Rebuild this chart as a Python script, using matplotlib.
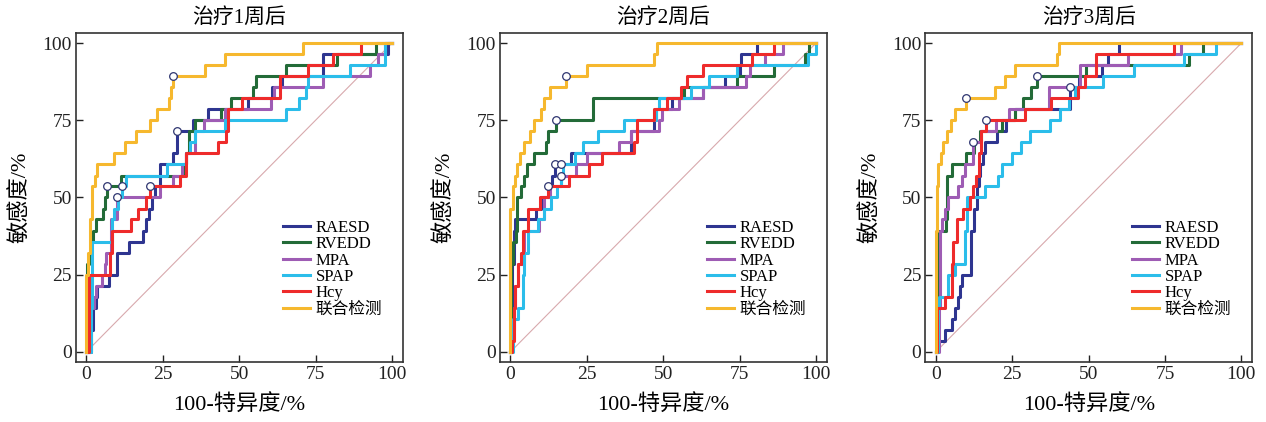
"""ROC curves after 1/2/3 weeks of treatment."""

import matplotlib
import matplotlib.pyplot as plt

matplotlib.use("Agg")

plt.rcParams["font.family"] = ["Liberation Serif", "Noto Sans CJK SC", "DejaVu Sans"]

TITLES = ["治疗1周后", "治疗2周后", "治疗3周后"]
LABELS = ["RAESD", "RVEDD", "MPA", "SPAP", "Hcy", "联合检测"]
COLORS = ["#2e3590", "#236b38", "#9e5cb4", "#2bbdea", "#ee2b2b", "#f6b82e"]
TICKS = [0, 25, 50, 75, 100]

# ---- week 1: (100-specificity, sensitivity) corner points ----
w1_raesd_x = [0, 1.5, 2.2, 3.0, 3.5, 7.5, 10.0, 14.0, 18.5, 19.6, 20.5, 21.5, 22.5, 24.2, 28.5, 29.8, 34.9, 39.8, 53.0, 60.6, 64.0, 77.5, 98.7, 100]
w1_raesd_y = [0, 7.1, 14.3, 17.9, 21.4, 25, 32.1, 35.7, 39.3, 42.9, 46.4, 50, 53.6, 60.7, 64.3, 71.4, 75, 78.6, 82.1, 85.7, 89.3, 96.4, 100, 100]
w1_rvedd_x = [0, 0.3, 1.0, 1.5, 2.3, 3.0, 5.5, 6.0, 6.7, 11.5, 31.5, 32.5, 33.5, 35.5, 44.0, 47.5, 54.5, 55.5, 65.5, 82.0, 94.9, 100]
w1_rvedd_y = [0, 28.6, 32.1, 35.7, 39.3, 42.9, 46.4, 50, 53.6, 57.1, 60.7, 64.3, 71.4, 75, 78.6, 82.1, 85.7, 89.3, 92.9, 96.4, 100, 100]
w1_mpa_x = [0, 1.0, 2.4, 3.0, 5.0, 6.0, 6.5, 8.0, 10.0, 24.2, 28.5, 31.3, 32.5, 35.5, 38.5, 45.5, 60.5, 61.5, 77.5, 92.7, 95.5, 97.6, 100]
w1_mpa_y = [0, 14.3, 17.9, 21.4, 25, 28.6, 32.1, 42.9, 50, 53.6, 57.1, 60.7, 64.3, 71.4, 75, 78.6, 82.1, 85.7, 89.3, 92.9, 96.4, 100, 100]
w1_spap_x = [0, 1.5, 1.8, 2.0, 8.4, 8.5, 9.0, 10.5, 11.6, 13.0, 26.3, 32.5, 34.0, 35.5, 45.5, 65.5, 69.5, 72.0, 72.5, 86.2, 97.6, 100]
w1_spap_y = [0, 14.3, 25, 35.7, 39.3, 42.9, 46.4, 50, 53.6, 57.1, 60.7, 64.3, 67.9, 71.4, 75, 78.6, 82.1, 85.7, 89.3, 92.9, 100, 100]
w1_hcy_x = [0, 0.8, 7.6, 8.4, 14.5, 17.0, 19.6, 20.9, 30.8, 32.5, 43.2, 45.8, 46.5, 50.8, 63.3, 72.6, 80.7, 90.0, 100]
w1_hcy_y = [0, 25, 32.1, 39.3, 42.9, 46.4, 50, 53.6, 57.1, 64.3, 67.9, 71.4, 78.6, 82.1, 89.3, 92.9, 96.4, 100, 100]
w1_comb_x = [0, 0, 0.6, 1.3, 2.0, 2.7, 3.6, 8.9, 12.7, 16.3, 20.9, 23.1, 26.9, 27.6, 28.3, 38.8, 45.4, 70.9, 100]
w1_comb_y = [0, 25, 32.1, 42.9, 53.6, 57.1, 60.7, 64.3, 67.9, 71.4, 75, 78.6, 82.1, 85.7, 89.3, 92.9, 96.4, 100, 100]

# ---- week 2 ----
w2_raesd_x = [0, 0.4, 1.0, 1.5, 8.5, 10.0, 12.6, 13.5, 14.7, 19.8, 39.6, 47.0, 47.5, 52.8, 63.0, 70.3, 75.0, 75.5, 80.7, 100]
w2_raesd_y = [0, 28.6, 39.3, 42.9, 46.4, 50, 53.6, 57.1, 60.7, 64.3, 71.4, 75, 78.6, 82.1, 85.7, 89.3, 92.9, 96.4, 100, 100]
w2_rvedd_x = [0, 0.3, 0.8, 1.8, 2.0, 2.2, 3.4, 4.5, 5.4, 7.8, 11.6, 12.2, 15.0, 27.0, 56.7, 74.1, 86.2, 96.4, 97.8, 100]
w2_rvedd_y = [0, 28.6, 35.7, 39.3, 46.4, 50, 53.6, 57.1, 60.7, 64.3, 67.9, 71.4, 75, 82.1, 85.7, 89.3, 92.9, 96.4, 100, 100]
w2_mpa_x = [0, 0.5, 1.0, 1.6, 2.4, 4.5, 9.5, 11.0, 13.0, 16.5, 21.4, 25.0, 35.5, 39.5, 48.5, 49.5, 55.0, 63.0, 77.0, 78.5, 83.3, 89.1, 100]
w2_mpa_y = [0, 7.1, 14.3, 21.4, 28.6, 39.3, 42.9, 50, 53.6, 57.1, 60.7, 64.3, 67.9, 71.4, 75, 78.6, 82.1, 85.7, 89.3, 92.9, 96.4, 100, 100]
w2_spap_x = [0, 0.8, 2.4, 4.2, 4.5, 5.7, 8.9, 11.1, 13.3, 15.2, 16.5, 17.2, 21.1, 23.6, 28.8, 37.2, 47.5, 48.5, 59.2, 64.9, 74.1, 97.5, 100]
w2_spap_y = [0, 10.7, 14.3, 25, 32.1, 39.3, 42.9, 46.4, 50, 53.6, 57.1, 60.7, 64.3, 67.9, 71.4, 75, 78.6, 82.1, 85.7, 89.3, 92.9, 96.4, 100]
w2_hcy_x = [0, 0.4, 1.1, 1.5, 2.4, 3.3, 4.0, 5.7, 9.8, 12.4, 19.2, 25.8, 30.1, 40.4, 41.5, 47.0, 51.3, 55.7, 57.8, 63.0, 79.0, 86.1, 100]
w2_hcy_y = [0, 3.6, 14.3, 21.4, 28.6, 32.1, 39.3, 46.4, 50, 53.6, 57.1, 60.7, 64.3, 67.9, 75, 78.6, 82.1, 85.7, 89.3, 92.9, 96.4, 100, 100]
w2_comb_x = [0, 0, 0.9, 1.6, 2.3, 3.0, 4.5, 6.5, 7.6, 10.0, 11.1, 13.0, 18.3, 25.2, 47.0, 47.8, 100]
w2_comb_y = [0, 46.4, 53.6, 57.1, 60.7, 64.3, 67.9, 71.4, 75, 78.6, 82.1, 85.7, 89.3, 92.9, 96.4, 100, 100]

# ---- week 3 ----
w3_raesd_x = [0, 0.6, 3.0, 5.2, 6.3, 7.2, 8.0, 8.5, 11.5, 11.5, 12.5, 13.4, 14.0, 14.6, 15.5, 16.1, 20.0, 23.0, 25.9, 43.8, 46.7, 54.5, 56.3, 59.8, 100]
w3_raesd_y = [0, 3.6, 7.1, 10.7, 14.3, 17.9, 21.4, 25, 32.1, 39.3, 46.4, 53.6, 57.1, 60.7, 64.3, 67.9, 71.4, 75, 78.6, 85.7, 89.3, 92.9, 96.4, 100, 100]
w3_rvedd_x = [0, 0.5, 0.9, 3.3, 3.5, 5.2, 10.0, 12.5, 14.5, 21.5, 25.9, 28.5, 31.0, 33.0, 49.3, 82.9, 87.6, 100]
w3_rvedd_y = [0, 21.4, 39.3, 42.9, 57.1, 60.7, 64.3, 67.9, 71.4, 75, 78.6, 82.1, 85.7, 89.3, 92.9, 96.4, 100, 100]
w3_mpa_x = [0, 0.9, 1.4, 2.0, 3.0, 4.1, 7.4, 8.5, 9.6, 12.3, 14.8, 19.6, 24.0, 37.2, 47.3, 62.8, 80.2, 100]
w3_mpa_y = [0, 14.3, 39.3, 42.9, 46.4, 50, 53.6, 57.1, 60.7, 67.9, 71.4, 75, 78.6, 85.7, 92.9, 96.4, 100, 100]
w3_spap_x = [0, 0.6, 1.0, 4.1, 6.3, 9.6, 10.1, 16.1, 20.4, 21.5, 24.8, 28.0, 30.8, 37.3, 40.5, 43.5, 45.5, 54.7, 65.0, 81.3, 91.6, 100]
w3_spap_y = [0, 14.3, 17.9, 25, 28.6, 39.3, 50, 53.6, 57.1, 60.7, 64.3, 67.9, 71.4, 75, 78.6, 82.1, 85.7, 89.3, 92.9, 96.4, 100, 100]
w3_hcy_x = [0, 0.4, 3.0, 5.4, 5.5, 6.8, 9.0, 11.2, 12.3, 13.2, 14.0, 14.8, 16.4, 29.1, 37.8, 46.5, 48.7, 52.5, 78.0, 100]
w3_hcy_y = [0, 14.3, 17.9, 28.6, 35.7, 42.9, 46.4, 50, 53.6, 57.1, 64.3, 71.4, 75, 78.6, 82.1, 85.7, 89.3, 96.4, 100, 100]
w3_comb_x = [0, 0, 0.4, 0.7, 1.6, 2.4, 3.8, 5.0, 6.3, 9.8, 19.3, 22.6, 25.9, 39.5, 40.2, 100]
w3_comb_y = [0, 39.3, 53.6, 60.7, 64.3, 67.9, 71.4, 75, 78.6, 82.1, 85.7, 89.3, 92.9, 96.4, 100, 100]

# optimal cut-off points (open circles)
w1_cut_x = [6.7, 10.0, 11.6, 20.9, 29.8, 28.3]
w1_cut_y = [53.6, 50, 53.6, 53.6, 71.4, 89.3]
w2_cut_x = [18.3, 15.0, 14.7, 16.5, 16.5, 12.4]
w2_cut_y = [89.3, 75, 60.7, 60.7, 57.1, 53.6]
w3_cut_x = [9.8, 33.0, 43.8, 16.4, 12.3]
w3_cut_y = [82.1, 89.3, 85.7, 75, 67.9]

PANELS = [
    ([(w1_raesd_x, w1_raesd_y), (w1_rvedd_x, w1_rvedd_y), (w1_mpa_x, w1_mpa_y),
      (w1_spap_x, w1_spap_y), (w1_hcy_x, w1_hcy_y), (w1_comb_x, w1_comb_y)],
     w1_cut_x, w1_cut_y),
    ([(w2_raesd_x, w2_raesd_y), (w2_rvedd_x, w2_rvedd_y), (w2_mpa_x, w2_mpa_y),
      (w2_spap_x, w2_spap_y), (w2_hcy_x, w2_hcy_y), (w2_comb_x, w2_comb_y)],
     w2_cut_x, w2_cut_y),
    ([(w3_raesd_x, w3_raesd_y), (w3_rvedd_x, w3_rvedd_y), (w3_mpa_x, w3_mpa_y),
      (w3_spap_x, w3_spap_y), (w3_hcy_x, w3_hcy_y), (w3_comb_x, w3_comb_y)],
     w3_cut_x, w3_cut_y),
]

fig = plt.figure(figsize=(12.66, 4.22), dpi=100)
lefts = [0.060, 0.395, 0.731]

for i, (curves, cx, cy) in enumerate(PANELS):
    ax = fig.add_axes([lefts[i], 0.142, 0.258, 0.780])
    ax.plot([0, 100], [0, 100], color="#d8a9ad", linewidth=0.8, zorder=1)
    for (xs, ys), label, color in zip(curves, LABELS, COLORS):
        ax.plot(xs, ys, drawstyle="steps-post", color=color, linewidth=2.2,
                label=label, zorder=2)
    ax.plot(cx, cy, "o", markersize=5.5, markerfacecolor="white",
            markeredgecolor="#2e3570", markeredgewidth=0.9, zorder=5)

    ax.set_xlim(-3.4, 103.5)
    ax.set_ylim(-3.3, 103.3)
    ax.set_xticks(TICKS)
    ax.set_yticks(TICKS)
    ax.tick_params(direction="in", length=5, width=1, labelsize=14,
                   colors="#222222", top=False, right=False, pad=3)
    for sp in ax.spines.values():
        sp.set_linewidth(1.2)
        sp.set_color("#333333")
    ax.set_title(TITLES[i], fontsize=15, pad=7)
    ax.set_xlabel("100-特异度/%", fontsize=16, labelpad=8)
    ax.set_ylabel("敏感度/%", fontsize=16, labelpad=8)
    ax.legend(loc="lower left", bbox_to_anchor=(0.608, 0.11), frameon=False,
              fontsize=12, handlelength=1.6, handletextpad=0.35,
              labelspacing=0.02, borderpad=0)

fig.savefig("out.png", dpi=100)
plt.close(fig)
